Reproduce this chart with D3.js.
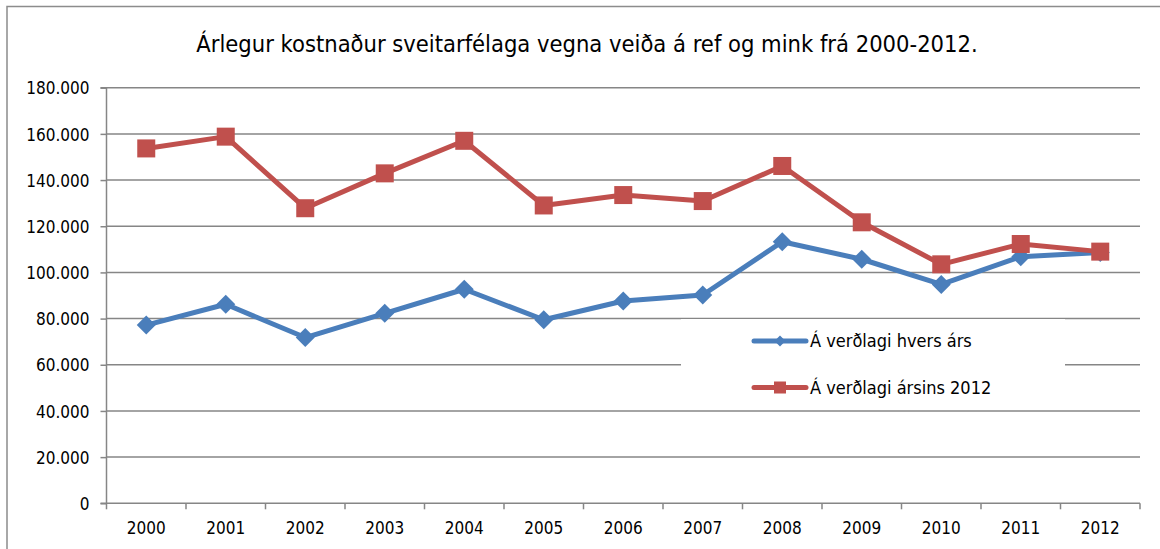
<!DOCTYPE html>
<html>
<head>
<meta charset="utf-8">
<script src="https://cdn.jsdelivr.net/npm/d3@7"></script>
<style>
  body { margin: 0; background: #fff; }
  text { font-family: "DejaVu Sans Condensed", "DejaVu Sans", sans-serif; font-stretch: condensed; fill: #000; }
</style>
</head>
<body>
<script>
// Árlegur kostnaður - line chart

var years = ["2000","2001","2002","2003","2004","2005","2006","2007","2008","2009","2010","2011","2012"];
var hversArs = [77200, 86200, 71800, 82300, 92700, 79500, 87600, 90200, 113300, 105700, 94800, 106800, 108600];
var arsins2012 = [153700, 158800, 127800, 142900, 157000, 129000, 133500, 130900, 146100, 121700, 103500, 112300, 109000];
var yTicks = [0, 20000, 40000, 60000, 80000, 100000, 120000, 140000, 160000, 180000];
var seriesNames = ["Á verðlagi hvers árs", "Á verðlagi ársins 2012"];

var w_svg = 1160;
var h_svg = 549;

// plot area edges
var pLeft = 106.5, pRight = 1140, pTop = 87.7, pBottom = 503.3;

var blue = "#4a7ebb";
var red = "#c0504d";
var grid = "#868686";

var svg = d3.select("body").append("svg")
  .attr("width", w_svg)
  .attr("height", h_svg);

// chart frame (only top and left visible in the picture)
svg.append("path")
  .attr("d", "M7,549 V6.5 H1160")
  .attr("fill", "none")
  .attr("stroke", "#8c8c8c")
  .attr("stroke-width", 1.5);

// title
svg.append("text")
  .attr("x", 587)
  .attr("y", 52)
  .attr("text-anchor", "middle")
  .style("font-size", "23.5px")
  .text("Árlegur kostnaður sveitarfélaga vegna veiða á ref og mink frá 2000-2012.");

// scales
var xScale = d3.scaleBand().domain(years).range([pLeft, pRight]).padding(0);
var yScale = d3.scaleLinear().domain([0, 180000]).range([pBottom, pTop]);

var loc = d3.formatLocale({decimal: ",", thousands: ".", grouping: [3], currency: ["", ""]});
var fmt = loc.format(",");

// gridlines
svg.append("g")
  .selectAll("line")
  .data(yTicks.filter(function(d) { return d > 0; }))
  .enter()
  .append("line")
  .attr("x1", pLeft)
  .attr("x2", pRight)
  .attr("y1", function(d) { return yScale(d); })
  .attr("y2", function(d) { return yScale(d); })
  .attr("stroke", grid)
  .attr("stroke-width", 1.5);

// y axis
var y_axis = d3.axisLeft(yScale).tickValues(yTicks).tickFormat(function(d) { return fmt(d); }).tickSize(6).tickPadding(11);
var gy = svg.append("g").attr("transform", "translate(" + pLeft + ",0)").call(y_axis);
gy.select(".domain").attr("stroke", grid).attr("stroke-width", 1.5).attr("d", "M-6," + pTop + "H0V" + pBottom + "H-6");
gy.selectAll(".tick line").attr("stroke", grid).attr("stroke-width", 1.5);
gy.selectAll(".tick text").style("font-size", "17px").attr("dy", "0.36em");

// x axis (ticks between categories)
var gx = svg.append("g").attr("transform", "translate(0," + pBottom + ")");
gx.append("line")
  .attr("x1", pLeft).attr("x2", pRight)
  .attr("stroke", grid).attr("stroke-width", 1.5);
var bounds = years.map(function(d) { return xScale(d); }).concat([pRight]);
gx.selectAll("line.tk")
  .data(bounds)
  .enter()
  .append("line")
  .attr("class", "tk")
  .attr("x1", function(d) { return d; })
  .attr("x2", function(d) { return d; })
  .attr("y1", 0).attr("y2", 6)
  .attr("stroke", grid).attr("stroke-width", 1.5);
gx.selectAll("text")
  .data(years)
  .enter()
  .append("text")
  .attr("x", function(d) { return xScale(d) + xScale.bandwidth() / 2; })
  .attr("y", 31)
  .attr("text-anchor", "middle")
  .style("font-size", "17px")
  .text(function(d) { return d; });

// legend box (sits over the gridlines)
svg.append("rect")
  .attr("x", 681)
  .attr("y", 319)
  .attr("width", 384)
  .attr("height", 86)
  .attr("fill", "#fff");

var cx = function(i) { return xScale(years[i]) + xScale.bandwidth() / 2; };

var line = d3.line()
  .x(function(d, i) { return cx(i); })
  .y(function(d) { return yScale(d); });

function diamond(r) {
  return "M0," + (-r) + "L" + r + ",0L0," + r + "L" + (-r) + ",0Z";
}

// series: blue first, red on top
svg.append("path")
  .datum(hversArs)
  .attr("d", line)
  .attr("fill", "none")
  .attr("stroke", blue)
  .attr("stroke-width", 5)
  .attr("stroke-linejoin", "round");

svg.selectAll("path.dia")
  .data(hversArs)
  .enter()
  .append("path")
  .attr("class", "dia")
  .attr("d", diamond(9.5))
  .attr("transform", function(d, i) { return "translate(" + cx(i) + "," + yScale(d) + ")"; })
  .attr("fill", blue);

svg.append("path")
  .datum(arsins2012)
  .attr("d", line)
  .attr("fill", "none")
  .attr("stroke", red)
  .attr("stroke-width", 5)
  .attr("stroke-linejoin", "round");

svg.selectAll("rect.sq")
  .data(arsins2012)
  .enter()
  .append("rect")
  .attr("class", "sq")
  .attr("x", function(d, i) { return cx(i) - 9; })
  .attr("y", function(d) { return yScale(d) - 9; })
  .attr("width", 18)
  .attr("height", 18)
  .attr("fill", red);

// legend entries
var legY = [341, 387.5];
var legCol = [blue, red];
var lg = svg.append("g");
lg.selectAll("line")
  .data(seriesNames)
  .enter()
  .append("line")
  .attr("x1", 754).attr("x2", 806)
  .attr("y1", function(d, i) { return legY[i]; })
  .attr("y2", function(d, i) { return legY[i]; })
  .attr("stroke", function(d, i) { return legCol[i]; })
  .attr("stroke-width", 5)
  .attr("stroke-linecap", "round");
lg.append("path")
  .attr("d", diamond(5.5))
  .attr("transform", "translate(780," + legY[0] + ")")
  .attr("fill", blue);
lg.append("rect")
  .attr("x", 774).attr("y", legY[1] - 6)
  .attr("width", 12).attr("height", 12)
  .attr("fill", red);
lg.selectAll("text")
  .data(seriesNames)
  .enter()
  .append("text")
  .attr("x", 810)
  .attr("y", function(d, i) { return legY[i]; })
  .attr("dy", "0.36em")
  .style("font-size", "18px")
  .text(function(d) { return d; });
</script>
</body>
</html>
